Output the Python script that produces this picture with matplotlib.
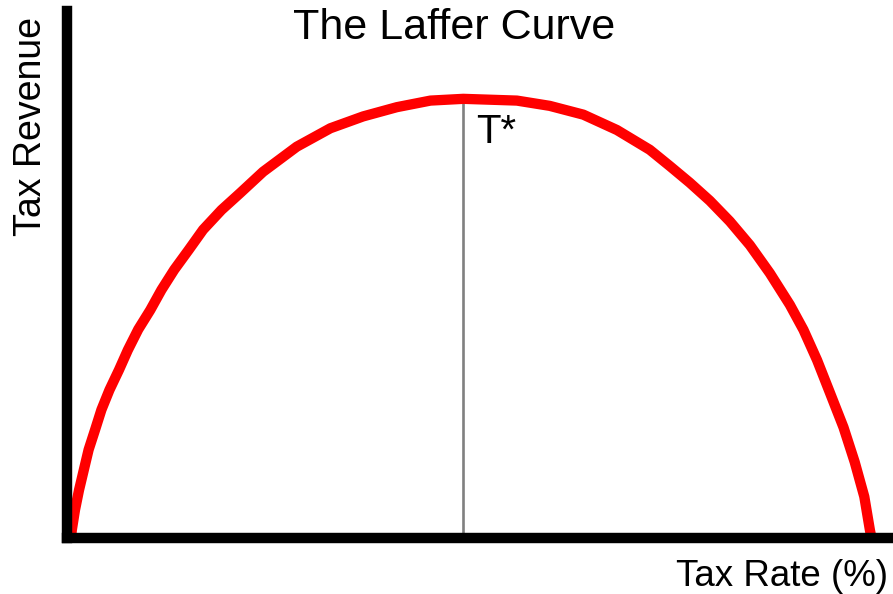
import matplotlib.pyplot as plt

plt.rcParams['font.family'] = ['Liberation Sans', 'DejaVu Sans']

# Кривая Лаффера, точки (ставка %, выручка в % от максимума)
tax_rate = [0, 0.1, 0.5, 1.0, 1.6, 2.2, 3.0, 3.8, 4.8, 6.0, 7.1, 8.4, 9.9, 11.3,
            12.9, 14.7, 16.5, 18.8, 21.1, 24.0, 28.2, 32.4, 36.5, 40.7, 44.9,
            49.0, 55.7, 59.8, 64.0, 68.2, 72.3, 74.8, 77.3, 79.8, 82.3, 84.8,
            87.3, 89.8, 91.5, 93.2, 94.8, 96.5, 97.9, 99.1, 99.8, 100]
revenue = [0, 1.8, 6.4, 10.9, 15.5, 20.1, 24.6, 29.2, 33.7, 38.3, 42.8, 47.5, 51.9,
           56.5, 61.1, 65.6, 70.2, 74.7, 78.5, 83.4, 89.1, 93.3, 96.0, 98.1, 99.6,
           100, 99.6, 98.4, 96.4, 92.9, 88.4, 84.7, 80.9, 76.8, 72.1, 66.7,
           60.3, 53.1, 47.4, 40.5, 33.1, 25.2, 17.3, 9.4, 1.8, 0]
T_STAR = 49.0
PEAK = 100

W, H = 893, 594
fig = plt.figure(figsize=(W / 100, H / 100), dpi=100)
ax = fig.add_axes([67 / W, 1 - 538 / H, (888 - 67) / W, (538 - 11) / H])

ax.plot(tax_rate, revenue, color='#ff0000', lw=7.4, solid_capstyle='butt', zorder=2)
ax.plot([T_STAR, T_STAR], [0, PEAK], color='#808080', lw=1.9, zorder=1)

ax.set_xlim(-0.5, 102.06)
ax.set_ylim(0, 120.0)
ax.set_xticks([])
ax.set_yticks([])
for side in ['top', 'right']:
    ax.spines[side].set_visible(False)
for side in ['left', 'bottom']:
    ax.spines[side].set_linewidth(7.5)
    ax.spines[side].set_color('black')
    ax.spines[side].set_zorder(3)

fig.text(476 / W, 1 - 113 / H, 'T*', fontsize=29, ha='left', va='top')
fig.text(454 / W, 1 - 28 / H, 'The Laffer Curve', fontsize=31, ha='center', va='center')
fig.text(31 / W, 1 - 127 / H, 'Tax Revenue', fontsize=27, rotation=90,
         ha='center', va='center')
fig.text(888 / W, 1 - 577 / H, 'Tax Rate (%)', fontsize=26.5, ha='right', va='center')

fig.savefig('out.png', dpi=100)
